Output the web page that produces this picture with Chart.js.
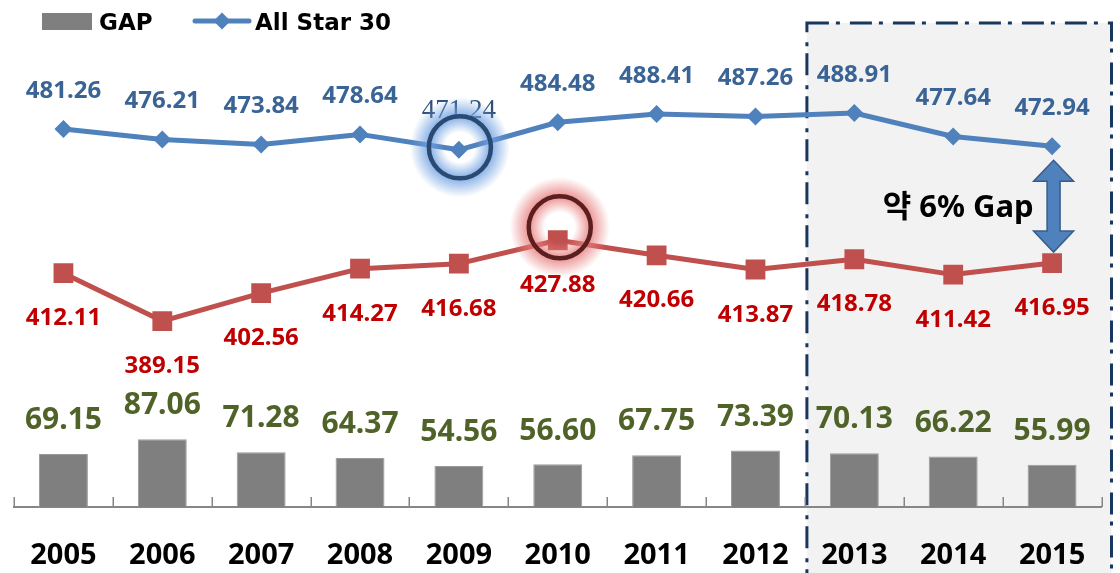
<!DOCTYPE html>
<html>
<head>
<meta charset="utf-8">
<script src="https://cdn.jsdelivr.net/npm/chart.js@4.4.1/dist/chart.umd.min.js"></script>
<style>
html,body{margin:0;padding:0;background:#fff;}
#wrap{width:1120px;height:573px;position:relative;overflow:hidden;}
</style>
</head>
<body>
<div id="wrap"><canvas id="c" width="1120" height="573"></canvas></div>
<script>
// ---- data ----
const categories = ['2005','2006','2007','2008','2009','2010','2011','2012','2013','2014','2015'];
const gapValues = [69.15, 87.06, 71.28, 64.37, 54.56, 56.60, 67.75, 73.39, 70.13, 66.22, 55.99];
const allStarValues = [481.26, 476.21, 473.84, 478.64, 471.24, 484.48, 488.41, 487.26, 488.91, 477.64, 472.94];
const compareValues = [412.11, 389.15, 402.56, 414.27, 416.68, 427.88, 420.66, 413.87, 418.78, 411.42, 416.95];
const legendNames = ['GAP', 'All Star 30'];
const gapNote = '약 6% Gap';
const highlightStart = '2013';
const circledBlue = '2009';
const circledRed = '2010';

// ---- styles ----
const BLUE = '#4f81bd';
const RED = '#c0504d';
const BAR = '#7f7f7f';
const LABEL_FONT = '"Noto Sans", "Noto Sans CJK KR", sans-serif';

function catWidth(chart){
  const x = chart.scales.x;
  return (x.right - x.left) / categories.length;
}

const decorPlugin = {
  id: 'decor',
  beforeDraw(chart){
    const ctx = chart.ctx, x = chart.scales.x, area = chart.chartArea;
    const w = catWidth(chart);
    const i0 = categories.indexOf(highlightStart);
    const left = x.getPixelForValue(i0) - w/2 + 2;
    const right = area.right + 10;
    const top = area.top - 17;
    const bottom = chart.height + 10;
    ctx.save();
    ctx.fillStyle = '#f2f2f2';
    ctx.fillRect(left, top, right - left, bottom - top);
    ctx.strokeStyle = '#17375e';
    ctx.lineWidth = 3;
    ctx.setLineDash([22, 7, 4, 10]);
    ctx.strokeRect(left, top, right - left, bottom - top);
    ctx.restore();
  },
  beforeDatasetsDraw(chart){
    const ctx = chart.ctx, x = chart.scales.x, area = chart.chartArea;
    const w = catWidth(chart);
    ctx.save();
    ctx.strokeStyle = '#868686';
    ctx.lineWidth = 1.5;
    for (let i = 0; i <= categories.length; i++){
      const px = Math.round(x.left + i*w) + 0.25;
      ctx.beginPath();
      ctx.moveTo(px, area.bottom - 10);
      ctx.lineTo(px, area.bottom);
      ctx.stroke();
    }
    ctx.restore();
  },
  afterDatasetsDraw(chart){
    const ctx = chart.ctx;
    // data labels
    chart.data.datasets.forEach((ds, di) => {
      const meta = chart.getDatasetMeta(di);
      const st = ds.labelStyle;
      meta.data.forEach((el, i) => {
        ctx.save();
        let font = st.font, color = st.color;
        if (st.special && st.special.index === i){ font = st.special.font; color = st.special.color; }
        ctx.font = font;
        ctx.fillStyle = color;
        ctx.textAlign = 'center';
        ctx.textBaseline = 'alphabetic';
        ctx.fillText(ds.data[i].toFixed(2), el.x, el.y + st.dy);
        ctx.restore();
      });
    });
    // glow circles
    const bm = chart.getDatasetMeta(0).data[categories.indexOf(circledBlue)];
    const rm = chart.getDatasetMeta(1).data[categories.indexOf(circledRed)];
    glowCircle(ctx, bm.x + 1, bm.y - 2.5, 31, '#2a4a73', [110,160,225]);
    glowCircle(ctx, rm.x + 2, rm.y - 13, 31, '#5a1f1e', [232,125,125]);

    // arrow between lines at last category
    const n = categories.length - 1;
    const pb = chart.getDatasetMeta(0).data[n];
    const pr = chart.getDatasetMeta(1).data[n];
    const ax = pb.x + 1.5, top = pb.y + 14, bot = pr.y - 11;
    const hw = 20, hh = 21, sw = 6.5;
    ctx.save();
    ctx.beginPath();
    ctx.moveTo(ax, top);
    ctx.lineTo(ax + hw, top + hh);
    ctx.lineTo(ax + sw, top + hh);
    ctx.lineTo(ax + sw, bot - hh);
    ctx.lineTo(ax + hw, bot - hh);
    ctx.lineTo(ax, bot);
    ctx.lineTo(ax - hw, bot - hh);
    ctx.lineTo(ax - sw, bot - hh);
    ctx.lineTo(ax - sw, top + hh);
    ctx.lineTo(ax - hw, top + hh);
    ctx.closePath();
    ctx.fillStyle = BLUE;
    ctx.fill();
    ctx.strokeStyle = '#385d8a';
    ctx.lineWidth = 1.5;
    ctx.stroke();
    ctx.font = 'bold 31px ' + LABEL_FONT;
    ctx.fillStyle = '#000';
    ctx.textAlign = 'right';
    ctx.textBaseline = 'alphabetic';
    ctx.fillText(gapNote, ax - hw, (top + bot)/2 + 11);
    ctx.restore();
  },
  afterDraw(chart){
    const ctx = chart.ctx;
    ctx.save();
    // legend: GAP
    ctx.fillStyle = BAR;
    ctx.fillRect(42, 13, 50, 17);
    ctx.font = 'bold 23px "DejaVu Sans", sans-serif';
    ctx.fillStyle = '#000';
    ctx.textBaseline = 'alphabetic';
    ctx.textAlign = 'left';
    ctx.fillText(legendNames[0], 99, 29.5);
    // legend: All Star 30
    ctx.strokeStyle = BLUE;
    ctx.lineWidth = 5;
    ctx.lineCap = 'round';
    ctx.beginPath();
    ctx.moveTo(195, 21); ctx.lineTo(249, 21);
    ctx.stroke();
    ctx.fillStyle = BLUE;
    ctx.beginPath();
    ctx.moveTo(222, 12.5); ctx.lineTo(230.5, 21); ctx.lineTo(222, 29.5); ctx.lineTo(213.5, 21);
    ctx.closePath(); ctx.fill();
    ctx.fillStyle = '#000';
    ctx.fillText(legendNames[1], 255, 29.5);
    ctx.restore();
  }
};

function glowCircle(ctx, cx, cy, r, ring, rgb){
  ctx.save();
  const g = ctx.createRadialGradient(cx, cy, r - 16, cx, cy, r + 19);
  g.addColorStop(0, `rgba(${rgb[0]},${rgb[1]},${rgb[2]},0)`);
  g.addColorStop(0.45, `rgba(${rgb[0]},${rgb[1]},${rgb[2]},0.85)`);
  g.addColorStop(1, `rgba(${rgb[0]},${rgb[1]},${rgb[2]},0)`);
  ctx.fillStyle = g;
  ctx.beginPath();
  ctx.arc(cx, cy, r + 19, 0, Math.PI*2);
  ctx.fill();
  ctx.strokeStyle = ring;
  ctx.lineWidth = 4.5;
  ctx.beginPath();
  ctx.arc(cx, cy, r, 0, Math.PI*2);
  ctx.stroke();
  ctx.restore();
}

new Chart(document.getElementById('c'), {
  type: 'bar',
  data: {
    labels: categories,
    datasets: [
      {
        type: 'line', label: legendNames[1], data: allStarValues, yAxisID: 'yLine', order: 1,
        borderColor: BLUE, backgroundColor: BLUE, borderWidth: 5, tension: 0,
        borderJoinStyle: 'round', borderCapStyle: 'round',
        pointStyle: 'rectRot', pointRadius: 9, pointBorderWidth: 0, pointBackgroundColor: BLUE,
        labelStyle: { font: 'bold 24px ' + LABEL_FONT, color: '#3a6396', dy: -31.4,
          special: { index: categories.indexOf(circledBlue), font: '27px "Liberation Serif", serif', color: '#2f4f7a' } }
      },
      {
        type: 'line', label: '', data: compareValues, yAxisID: 'yLine', order: 2,
        borderColor: RED, backgroundColor: RED, borderWidth: 5, tension: 0,
        borderJoinStyle: 'round', borderCapStyle: 'round',
        pointStyle: 'rect', pointRadius: 14, pointBorderWidth: 0, pointBackgroundColor: RED,
        labelStyle: { font: 'bold 24px ' + LABEL_FONT, color: '#c00000', dy: 52.1 }
      },
      {
        type: 'bar', label: legendNames[0], data: gapValues, yAxisID: 'yBar', order: 3,
        backgroundColor: BAR, borderColor: '#9a9a9a', borderWidth: 1,
        barPercentage: 0.495, categoryPercentage: 1,
        labelStyle: { font: 'bold 30px ' + LABEL_FONT, color: '#4f6228', dy: -24.8 }
      }
    ]
  },
  options: {
    responsive: false, animation: false, devicePixelRatio: 1, events: [],
    layout: { padding: { top: 40, left: 12.5, right: 18.5, bottom: 0 } },
    plugins: { legend: { display: false }, tooltip: { enabled: false } },
    scales: {
      x: {
        offset: true,
        grid: { display: false, drawTicks: false },
        border: { display: true, color: '#868686', width: 2 },
        ticks: { color: '#000', font: { family: '"Noto Sans", sans-serif', size: 29, weight: 'bold' },
                 padding: 31, maxRotation: 0, autoSkip: false },
        afterFit(s){ s.height = 66; s.paddingLeft = 0; s.paddingRight = 0; }
      },
      yLine: { display: false, min: 300, max: 523.9 },
      yBar: { display: false, min: 4.6, max: 573.4 }
    }
  },
  plugins: [decorPlugin]
});
</script>
</body>
</html>
